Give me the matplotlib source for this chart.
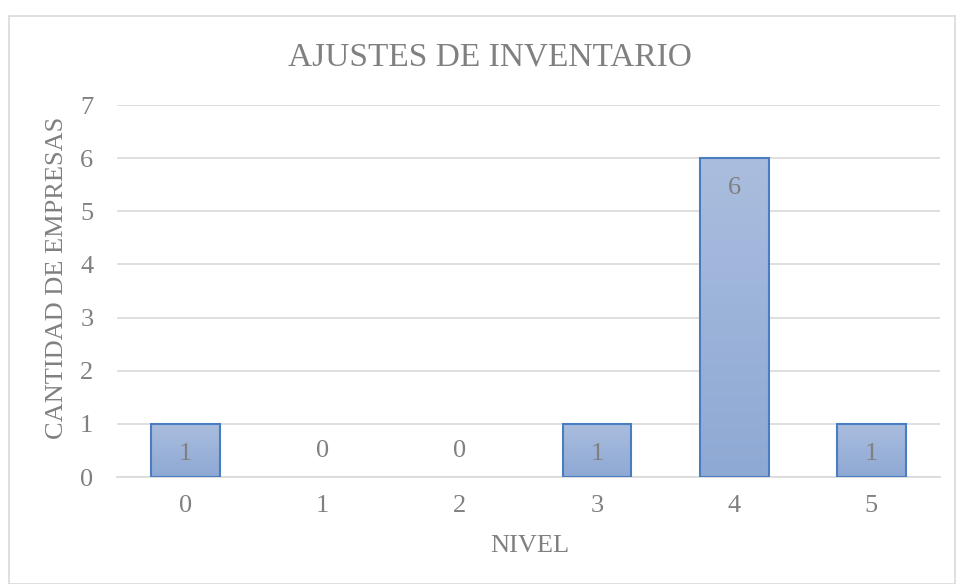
import numpy as np
import matplotlib
matplotlib.use('Agg')
import matplotlib.pyplot as plt
import matplotlib.colors as mcolors
from matplotlib.patches import Rectangle

# Survey results: number of companies per level
niveles = ['0', '1', '2', '3', '4', '5']
empresas = [1, 0, 0, 1, 6, 1]
y_ticks = [0, 1, 2, 3, 4, 5, 6, 7]

titulo = 'AJUSTES DE INVENTARIO'
eje_x = 'NIVEL'
eje_y = 'CANTIDAD DE EMPRESAS'

plt.rcParams['font.family'] = ['Liberation Serif', 'DejaVu Serif']
text_color = '#808080'
grid_color = '#D9D9D9'

fig = plt.figure(figsize=(9.57, 5.84), dpi=100)
ax = fig.add_axes([117 / 957, 1 - 477 / 584, (940 - 117) / 957, (477 - 105) / 584])

x = np.arange(len(niveles))
bars = ax.bar(x, empresas, width=0.5, color='none', edgecolor='#4A7DBF', linewidth=1.5, zorder=3)

# vertical gradient fill inside each bar
grad_cmap = mcolors.LinearSegmentedColormap.from_list('bar_grad', ['#8EA9D4', '#AABDDE'])
grad = np.linspace(0, 1, 256).reshape(-1, 1)
for bar in bars:
    h = bar.get_height()
    if h <= 0:
        bar.set_linewidth(0)
        continue
    x0 = bar.get_x()
    w = bar.get_width()
    im = ax.imshow(grad, cmap=grad_cmap, aspect='auto', origin='lower',
                   extent=[x0, x0 + w, 0, h], zorder=2)
    im.set_clip_path(bar)

# value labels just inside the top of each bar
for xi, v in zip(x, empresas):
    off = -30 if v > 0 else 26
    ax.annotate(str(v), (xi, v), xytext=(0, off), textcoords='offset pixels',
                ha='center', va='center', fontsize=19, color=text_color, zorder=4)

ax.set_xlim(-0.5, len(niveles) - 0.5)
ax.set_ylim(0, 7)
ax.set_xticks(x)
ax.set_xticklabels(niveles)
ax.set_yticks(y_ticks)
ax.tick_params(axis='both', length=0, labelsize=19, labelcolor=text_color)
ax.tick_params(axis='x', pad=13)
ax.tick_params(axis='y', pad=17)
ax.grid(axis='y', color=grid_color, linewidth=1.2, zorder=0)
ax.set_axisbelow(True)
for side in ['top', 'right', 'left']:
    ax.spines[side].set_visible(False)
ax.spines['bottom'].set_color(grid_color)
ax.spines['bottom'].set_linewidth(1.2)

fig.text(490 / 957, 1 - 57 / 584, titulo, ha='center', va='center', fontsize=24, color=text_color)
fig.text(530 / 957, 1 - 546 / 584, eje_x, ha='center', va='center', fontsize=19, color=text_color)
fig.text(57 / 957, 1 - 278 / 584, eje_y, ha='center', va='center', rotation=90, fontsize=19, color=text_color)

# chart frame
fig.patches.append(Rectangle((9 / 957, 0), 946 / 957, 1 - 16 / 584, transform=fig.transFigure,
                             fill=False, edgecolor=grid_color, linewidth=1.2))

fig.savefig('out.png', dpi=100, facecolor='white')
